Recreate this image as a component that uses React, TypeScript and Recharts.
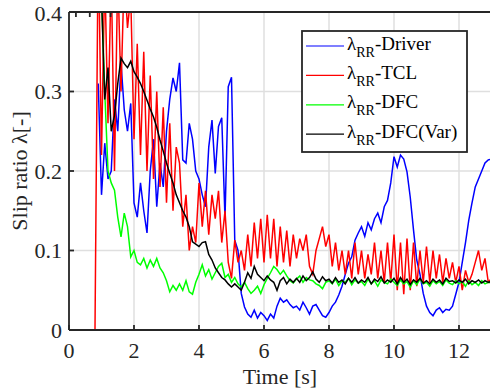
import { LineChart, Line, XAxis, YAxis, CartesianGrid, Legend } from 'recharts';

// sample times [s]
const time = [
  0.8, 0.9,
  1.0, 1.1, 1.2, 1.3, 1.4, 1.5, 1.6, 1.7, 1.8, 1.9,
  2.0, 2.1, 2.2, 2.3, 2.4, 2.5, 2.6, 2.7, 2.8, 2.9,
  3.0, 3.1, 3.2, 3.3, 3.4, 3.5, 3.6, 3.7, 3.8, 3.9,
  4.0, 4.1, 4.2, 4.3, 4.4, 4.5, 4.6, 4.7, 4.8, 4.9,
  5.0, 5.1, 5.2, 5.3, 5.4, 5.5, 5.6, 5.7, 5.8, 5.9,
  6.0, 6.1, 6.2, 6.3, 6.4, 6.5, 6.6, 6.7, 6.8, 6.9,
  7.0, 7.1, 7.2, 7.3, 7.4, 7.5, 7.6, 7.7, 7.8, 7.9,
  8.0, 8.1, 8.2, 8.3, 8.4, 8.5, 8.6, 8.7, 8.8, 8.9,
  9.0, 9.1, 9.2, 9.3, 9.4, 9.5, 9.6, 9.7, 9.8, 9.9,
  10.0, 10.1, 10.2, 10.3, 10.4, 10.5, 10.6, 10.7, 10.8, 10.9,
  11.0, 11.1, 11.2, 11.3, 11.4, 11.5, 11.6, 11.7, 11.8, 11.9,
  12.0, 12.1, 12.2, 12.3, 12.4, 12.5, 12.6, 12.7, 12.8, 12.9,
  13.0,
];

const driver = [
  null, 0.31,
  0.17, 0.235, 0.19, 0.2, 0.29, 0.25, 0.336, 0.277, 0.25, 0.285,
  0.16, 0.142, 0.185, 0.15, 0.122, 0.2, 0.24, 0.155, 0.21, 0.18,
  0.25, 0.29, 0.317, 0.3, 0.336, 0.214, 0.21, 0.26, 0.24, 0.2,
  0.19, 0.17, 0.155, 0.23, 0.264, 0.197, 0.256, 0.267, 0.14, 0.306,
  0.318, 0.113, 0.1, 0.046, 0.029, 0.02, 0.016, 0.025, 0.015, 0.022,
  0.018, 0.012, 0.02, 0.015, 0.03, 0.04, 0.035, 0.038, 0.032, 0.028,
  0.03, 0.025, 0.035, 0.028, 0.02, 0.03, 0.032, 0.025, 0.018, 0.016,
  0.022, 0.03, 0.035, 0.044, 0.055, 0.07, 0.084, 0.092, 0.113, 0.122,
  0.13, 0.118, 0.135, 0.126, 0.14, 0.147, 0.135, 0.155, 0.163, 0.185,
  0.218, 0.205, 0.22, 0.215, 0.199, 0.167, 0.126, 0.088, 0.07, 0.046,
  0.03, 0.022, 0.018, 0.025, 0.028, 0.022, 0.026, 0.025, 0.03, 0.045,
  0.06, 0.085, 0.11, 0.138, 0.16, 0.18, 0.19, 0.2, 0.21, 0.214,
  0.215,
];

const tcl = [
  0, 0.5,
  0.22, 0.45, 0.26, 0.45, 0.2, 0.45, 0.3, 0.45, 0.38, 0.42,
  0.24, 0.36, 0.22, 0.35, 0.2, 0.32, 0.19, 0.3, 0.18, 0.28,
  0.16, 0.26, 0.15, 0.23, 0.21, 0.13, 0.17, 0.1, 0.13, 0.11,
  0.185, 0.13, 0.175, 0.12, 0.17, 0.14, 0.175, 0.11, 0.15, 0.085,
  0.065, 0.113, 0.085, 0.1, 0.075, 0.12, 0.08, 0.135, 0.09, 0.14,
  0.085, 0.145, 0.09, 0.14, 0.08, 0.13, 0.085, 0.125, 0.08, 0.12,
  0.09, 0.115, 0.1, 0.12, 0.08, 0.07, 0.1, 0.115, 0.13, 0.105,
  0.12, 0.08, 0.11, 0.075, 0.1, 0.07, 0.1, 0.065, 0.11, 0.07,
  0.1, 0.065, 0.095, 0.07, 0.11, 0.065, 0.1, 0.06, 0.11, 0.06,
  0.12, 0.05, 0.11, 0.045, 0.115, 0.05, 0.11, 0.055, 0.1, 0.06,
  0.105, 0.06, 0.1, 0.065, 0.095, 0.06, 0.09, 0.065, 0.085, 0.06,
  0.08, 0.05, 0.075, 0.06, 0.07, 0.085, 0.1, 0.075, 0.09, 0.06,
  0.065,
];

const dfc = [
  null, null,
  0.42, 0.3, 0.2, 0.185, 0.176, 0.142, 0.117, 0.147, 0.13, 0.092,
  0.1, 0.085, 0.082, 0.09, 0.078, 0.088, 0.08, 0.09, 0.078, 0.072,
  0.062, 0.048, 0.056, 0.05, 0.058, 0.05, 0.062, 0.048, 0.045, 0.06,
  0.07, 0.082, 0.068, 0.076, 0.064, 0.072, 0.08, 0.084, 0.066, 0.07,
  0.06, 0.066, 0.058, 0.054, 0.06, 0.052, 0.046, 0.05, 0.055, 0.046,
  0.057, 0.065, 0.072, 0.08, 0.076, 0.07, 0.075, 0.068, 0.062, 0.059,
  0.064, 0.068, 0.06, 0.066, 0.063, 0.062, 0.058, 0.056, 0.052, 0.06,
  0.062, 0.058, 0.064, 0.056, 0.062, 0.06, 0.065, 0.057, 0.063, 0.059,
  0.061, 0.056, 0.064, 0.058, 0.062, 0.055, 0.063, 0.06, 0.058, 0.064,
  0.06, 0.056, 0.063, 0.058, 0.061, 0.054, 0.062, 0.057, 0.064, 0.058,
  0.06, 0.055, 0.062, 0.058, 0.061, 0.056, 0.063, 0.059, 0.057, 0.062,
  0.058, 0.061, 0.055, 0.062, 0.057, 0.06, 0.056, 0.062, 0.058, 0.06,
  0.059,
];

const dfcVar = [
  null, null,
  0.42, 0.29, 0.33, 0.25, 0.27, 0.31, 0.342, 0.335, 0.33, 0.338,
  0.325, 0.318, 0.31, 0.3, 0.289, 0.278, 0.268, 0.255, 0.239, 0.225,
  0.21, 0.197, 0.185, 0.17, 0.16, 0.15, 0.142, 0.13, 0.111, 0.108,
  0.105, 0.11, 0.111, 0.095, 0.088, 0.078, 0.072, 0.066, 0.063, 0.058,
  0.054, 0.058, 0.054, 0.05, 0.06, 0.072, 0.065, 0.08, 0.07, 0.066,
  0.062, 0.068, 0.063, 0.06, 0.05, 0.062, 0.066, 0.058, 0.064, 0.06,
  0.065, 0.06, 0.068, 0.062, 0.066, 0.073, 0.064, 0.06, 0.067, 0.062,
  0.064, 0.059, 0.066, 0.06, 0.063, 0.058, 0.065, 0.06, 0.066, 0.059,
  0.063, 0.06, 0.066, 0.058, 0.064, 0.061, 0.067, 0.059, 0.063, 0.06,
  0.065, 0.058, 0.066, 0.06, 0.064, 0.057, 0.063, 0.06, 0.065, 0.059,
  0.062, 0.058, 0.064, 0.06, 0.063, 0.058, 0.065, 0.061, 0.062, 0.059,
  0.063, 0.06, 0.064, 0.058, 0.062, 0.06, 0.063, 0.059, 0.062, 0.06,
  0.061,
];

const xTicks = [0, 2, 4, 6, 8, 10, 12];
const yTicks = [0, 0.1, 0.2, 0.3, 0.4];

const seriesKeys = ['driver', 'tcl', 'dfc', 'dfcVar'];
const seriesNames = ['Driver', 'TCL', 'DFC', 'DFC(Var)'];
const seriesColors = ['#0000ff', '#ff0000', '#00ff00', '#000000'];

const data = time.map((t, i) => ({
  t,
  driver: driver[i],
  tcl: tcl[i],
  dfc: dfc[i],
  dfcVar: dfcVar[i],
}));

const FONT = '"Liberation Serif", "Times New Roman", serif';
const AXIS = '#262626';

const noTick = () => <g />;

// MATLAB style legend box
const renderLegend = () => (
  <svg width={168} height={124} style={{ display: 'block' }}>
    <rect x={1} y={1} width={165} height={121} fill="#fff" stroke={AXIS} strokeWidth={1.8} />
    {seriesNames.map((name, i) => {
      const ly = 16 + i * 29.4;
      return (
        <g key={name}>
          <line x1={5} x2={43} y1={ly} y2={ly} stroke={seriesColors[i]} strokeWidth={1.2} />
          <text x={46} y={ly + 3.5} fontSize={19} fill="#000">
            <tspan>λ</tspan>
            <tspan fontSize={14} dy={7}>RR</tspan>
            <tspan dy={-7}>-{name}</tspan>
          </text>
        </g>
      );
    })}
  </svg>
);

export default function App() {
  return (
    <div
      style={{
        position: 'fixed',
        left: 0,
        top: 0,
        width: 490,
        height: 392,
        overflow: 'hidden',
        background: '#fff',
        fontFamily: FONT,
      }}
    >
      <style>{`svg text, svg tspan { font-family: ${FONT}; }`}</style>
      <LineChart
        width={500}
        height={392}
        data={data}
        margin={{ top: 11, right: 7.5, left: 9, bottom: 32 }}
        style={{ fontFamily: FONT }}
      >
        <CartesianGrid stroke="#dfdfdf" strokeWidth={1.5} />
        <XAxis
          dataKey="t"
          type="number"
          domain={[0, 13]}
          ticks={xTicks}
          allowDataOverflow
          height={30}
          tickSize={-5}
          tickMargin={17}
          axisLine={{ stroke: AXIS, strokeWidth: 1.8 }}
          tickLine={{ stroke: AXIS, strokeWidth: 1.8 }}
          tick={{ fontSize: 22, fill: AXIS }}
        />
        <XAxis
          xAxisId="top"
          orientation="top"
          type="number"
          domain={[0, 13]}
          ticks={xTicks}
          height={1}
          tickSize={-5}
          axisLine={{ stroke: AXIS, strokeWidth: 1.8 }}
          tickLine={{ stroke: AXIS, strokeWidth: 1.8 }}
          tick={noTick}
        />
        <YAxis
          type="number"
          domain={[0, 0.4]}
          ticks={yTicks}
          allowDataOverflow
          width={60}
          tickSize={-5}
          tickMargin={12}
          axisLine={{ stroke: AXIS, strokeWidth: 1.8 }}
          tickLine={{ stroke: AXIS, strokeWidth: 1.8 }}
          tick={{ fontSize: 22, fill: AXIS }}
          tickFormatter={(v: number) => String(v)}
        />
        <YAxis
          yAxisId="right"
          orientation="right"
          type="number"
          domain={[0, 0.4]}
          ticks={yTicks}
          width={1}
          tickSize={-5}
          axisLine={{ stroke: AXIS, strokeWidth: 1.8 }}
          tickLine={{ stroke: AXIS, strokeWidth: 1.8 }}
          tick={noTick}
        />
        {seriesKeys.map((key, i) => (
          <Line
            key={key}
            type="linear"
            dataKey={key}
            name={seriesNames[i]}
            stroke={seriesColors[i]}
            strokeWidth={1.5}
            dot={false}
            activeDot={false}
            connectNulls={false}
            isAnimationActive={false}
          />
        ))}
        <Legend
          layout="horizontal"
          align="center"
          verticalAlign="middle"
          content={renderLegend}
          wrapperStyle={{ position: 'absolute', left: 301, top: 30, width: 168, height: 124 }}
        />
      </LineChart>
      <svg width={490} height={392} style={{ position: 'absolute', left: 0, top: 0, pointerEvents: 'none' }}>
        <text x={280} y={384} textAnchor="middle" fontSize={22} fill={AXIS}>
          Time [s]
        </text>
        <text x={27} y={171} textAnchor="middle" fontSize={22} fill={AXIS} transform="rotate(-90 27 171)">
          Slip ratio λ[-]
        </text>
      </svg>
    </div>
  );
}
